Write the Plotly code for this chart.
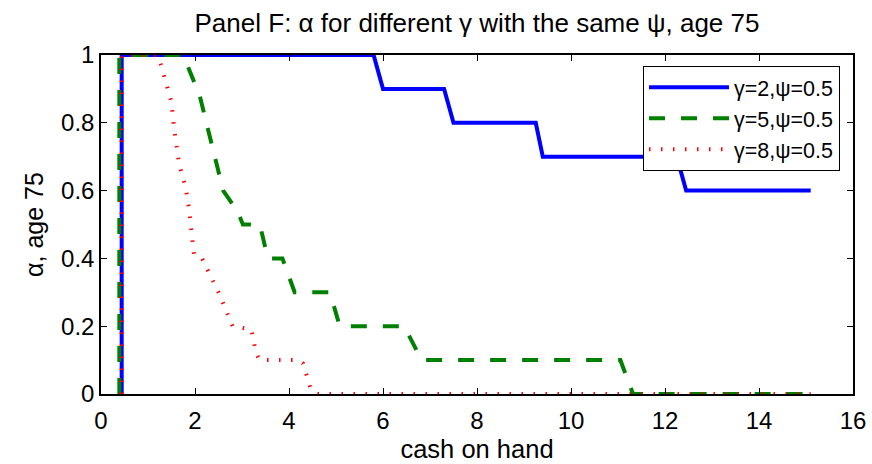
import plotly.graph_objects as go

# Data
blue_x = [0.44, 0.44, 5.8, 6.0, 7.3, 7.5, 9.25, 9.4, 12.25, 12.45, 15.1]
blue_y = [0, 1, 1, 0.9, 0.9, 0.8, 0.8, 0.7, 0.7, 0.6, 0.6]

green_x = [0.39, 0.39, 1.75, 2.1, 2.6, 2.9, 3.02, 3.38, 3.55, 3.86, 4.12, 4.87, 5.08,
           6.45, 6.82, 11.05, 11.32, 15.1]
green_y = [0, 1, 1, 0.88, 0.6, 0.54, 0.5, 0.5, 0.4, 0.4, 0.3, 0.3, 0.2,
           0.2, 0.1, 0.1, 0, 0]

red_x = [0.44, 0.44, 1.2, 1.3, 1.5, 1.55, 1.66, 1.8, 1.87, 1.98, 2.15, 2.5, 2.8, 3.2,
         3.3, 3.38, 4.2, 4.3, 4.45, 4.6, 15.1]
red_y = [0, 1, 1, 0.96, 0.86, 0.79, 0.68, 0.61, 0.55, 0.41, 0.4, 0.3, 0.2, 0.19,
         0.12, 0.1, 0.1, 0.09, 0.02, 0, 0]

names = ["γ=2,ψ=0.5", "γ=5,ψ=0.5", "γ=8,ψ=0.5"]
title_text = "Panel F: α for different γ with the same ψ, age 75"
x_label = "cash on hand"
y_label = "α, age 75"
x_ticks = [0, 2, 4, 6, 8, 10, 12, 14, 16]
y_ticks = [0, 0.2, 0.4, 0.6, 0.8, 1]

FONT = "Liberation Sans, Arial, sans-serif"

fig = go.Figure()
fig.add_trace(go.Scatter(x=blue_x, y=blue_y, mode="lines", name=names[0],
                         line=dict(color="rgb(0,0,255)", width=4)))
fig.add_trace(go.Scatter(x=green_x, y=green_y, mode="lines", name=names[1],
                         line=dict(color="rgb(0,128,0)", width=4, dash="16px,16px")))
fig.add_trace(go.Scatter(x=red_x, y=red_y, mode="lines", name=names[2],
                         line=dict(color="rgb(255,0,0)", width=4, dash="1.5px,10.5px")))

axis_common = dict(
    showline=True, linecolor="black", linewidth=1.5, mirror="ticks",
    ticks="inside", ticklen=6, tickwidth=1, tickcolor="black",
    showgrid=False, zeroline=False, automargin=False,
    tickfont=dict(family=FONT, size=24, color="black"),
)

fig.update_layout(
    width=872, height=464,
    margin=dict(l=101, r=19, t=55, b=69.5, pad=0),
    paper_bgcolor="white", plot_bgcolor="white",
    title=dict(text=title_text, xref="paper", x=0.5, xanchor="center",
               y=0.95, yanchor="middle",
               font=dict(family=FONT, size=26, color="black")),
    xaxis=dict(range=[0, 16], tickvals=x_ticks, ticklabelstandoff=4,
               title=dict(text=x_label, font=dict(family=FONT, size=25.5, color="black"),
                          standoff=8),
               **axis_common),
    yaxis=dict(range=[0, 1], tickvals=y_ticks,
               title=dict(text=y_label, font=dict(family=FONT, size=25, color="black"),
                          standoff=10),
               **axis_common),
    showlegend=True,
    legend=dict(x=0.9827, y=0.968, xanchor="right", yanchor="top",
                bgcolor="white", bordercolor="black", borderwidth=1,
                font=dict(family=FONT, size=21.5, color="black"),
                itemwidth=80, tracegroupgap=0),
)

fig.write_html("out.html")
